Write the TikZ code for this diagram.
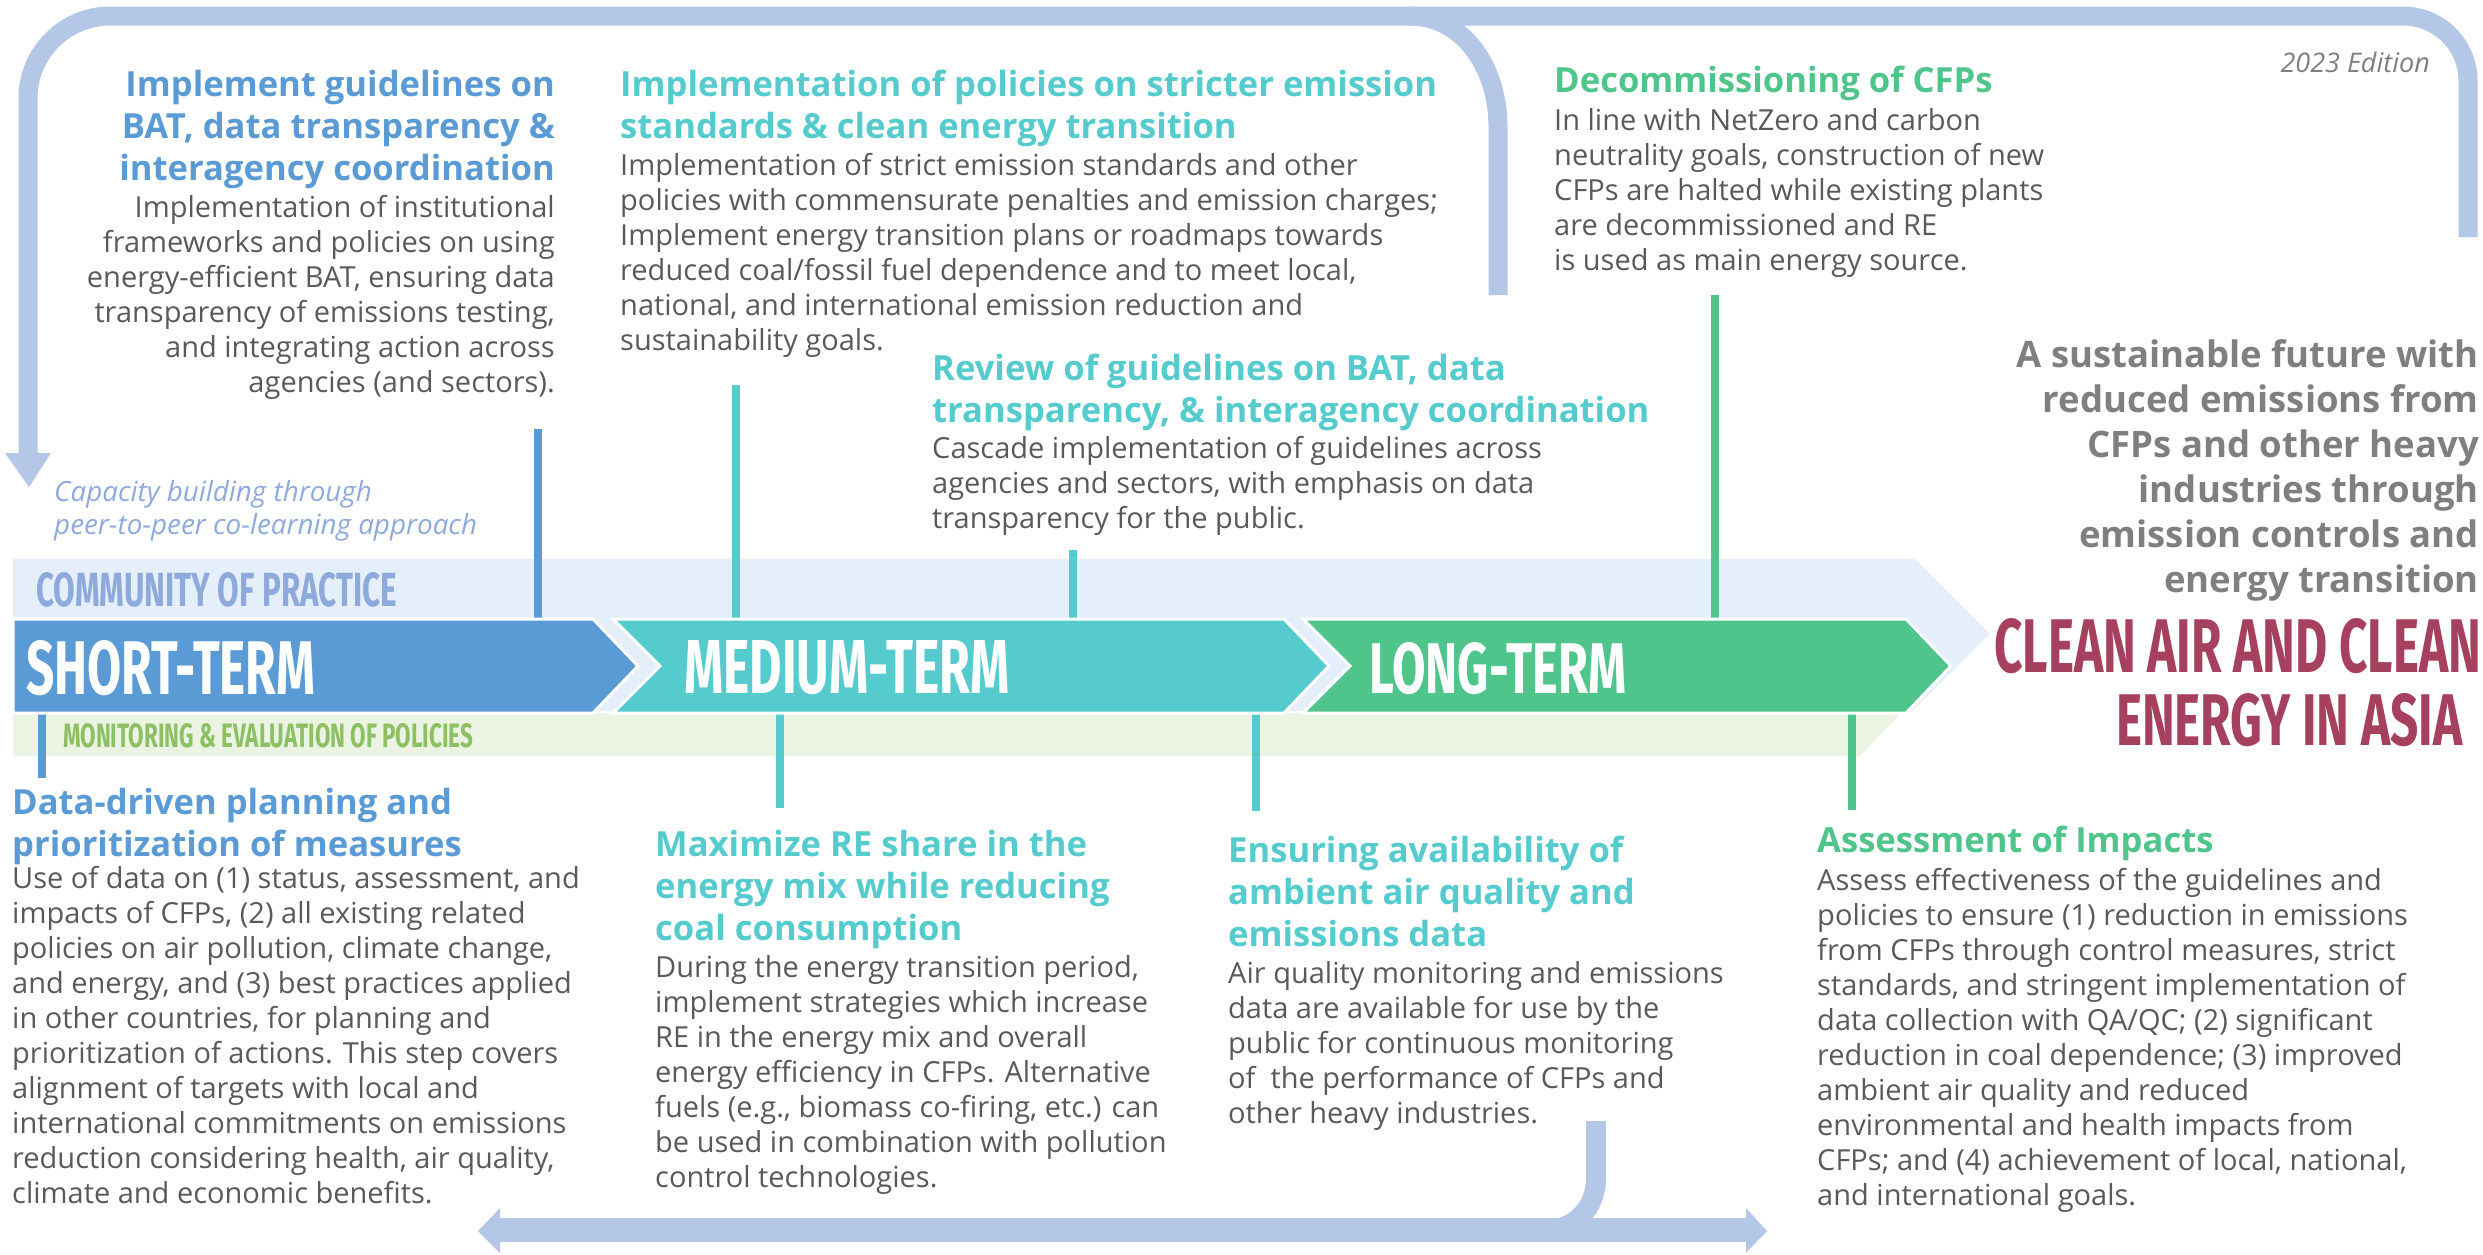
\documentclass[tikz,border=0pt]{standalone}
\usepackage{fontspec}
\usepackage{graphicx}
\setmainfont{Open Sans}
\newfontfamily\capsf{Fira Sans}
\definecolor{stblue}{HTML}{5B9BD5}
\definecolor{mdteal}{HTML}{55CBCD}
\definecolor{lggreen}{HTML}{4FC48B}
\definecolor{bodygray}{HTML}{595959}
\definecolor{headgray}{HTML}{7F7F7F}
\definecolor{cleanred}{HTML}{A6405F}
\definecolor{loopblue}{HTML}{B4C7E7}
\definecolor{bandblue}{HTML}{E5EEFB}
\definecolor{bandgreen}{HTML}{EBF3E3}
\definecolor{copblue}{HTML}{8EA9DB}
\definecolor{megreen}{HTML}{8CC063}
\tikzset{
  ttl/.style={inner sep=0pt, font=\bfseries\fontsize{34.6}{42}\selectfont},
  bdy/.style={inner sep=0pt, text=bodygray, font=\fontsize{29}{35}\selectfont},
  conn/.style={line width=7.5pt},
  loopband/.style={draw=loopblue, line width=#1},
  loopband/.default=19pt,
  chev/.style={draw=white, line width=3pt},
  capslab/.style={inner sep=0pt, anchor=base west},
}
\begin{document}
\begin{tikzpicture}[x=1pt,y=-1pt]
\useasboundingbox (0,0) rectangle (2483,1254);

% ---- top feedback loop ----
\draw[loopband] (2468,237) -- (2468,81) .. controls (2468,45) and (2439,16) .. (2403,16)
  -- (110,16) .. controls (65,16) and (28,53) .. (28,98) -- (28,455);
\draw[loopband] (1498,295) -- (1498,127) .. controls (1498,66) and (1462,16) .. (1410,16);
\fill[loopblue] (5,453) -- (51,453) -- (29,487) -- cycle;

% ---- bottom feedback loop ----
\draw[loopband=24pt] (496,1230) -- (1748,1230);
\draw[loopband=20pt] (1596,1121) -- (1596,1178) .. controls (1596,1208) and (1575,1230) .. (1545,1230);
\fill[loopblue] (500,1208) -- (478,1231) -- (500,1253) -- cycle;
\fill[loopblue] (1746,1208) -- (1767,1231) -- (1746,1253) -- cycle;

% ---- background bands ----
\fill[bandblue] (13,559) -- (1915,559) -- (1990,634) -- (1912,711) -- (13,711) -- cycle;
\fill[bandgreen] (13,713) -- (1901,713) -- (1860,756) -- (13,756) -- cycle;

% ---- connectors ----
\coordinate (c1a) at (538,429);  \coordinate (c1b) at (538,619);
\coordinate (c2a) at (736,385);  \coordinate (c2b) at (736,619);
\coordinate (c3a) at (1073,550); \coordinate (c3b) at (1073,619);
\coordinate (c4a) at (1715,295); \coordinate (c4b) at (1715,619);
\coordinate (d1a) at (42,713);   \coordinate (d1b) at (42,778);
\coordinate (d2a) at (780,713);  \coordinate (d2b) at (780,808);
\coordinate (d3a) at (1256,713); \coordinate (d3b) at (1256,811);
\coordinate (d4a) at (1852,713); \coordinate (d4b) at (1852,810);
\draw[conn, stblue] (c1a) -- (c1b);
\draw[conn, mdteal] (c2a) -- (c2b);
\draw[conn, mdteal] (c3a) -- (c3b);
\draw[conn, lggreen] (c4a) -- (c4b);
\draw[conn, stblue] (d1a) -- (d1b);
\draw[conn, mdteal] (d2a) -- (d2b);
\draw[conn, mdteal] (d3a) -- (d3b);
\draw[conn, lggreen] (d4a) -- (d4b);

% ---- chevrons ----
\filldraw[chev, fill=stblue] (13,619) -- (593,619) -- (638,666) -- (593,713) -- (13,713) -- cycle;
\filldraw[chev, fill=mdteal] (613,619) -- (1284,619) -- (1329,666) -- (1284,713) -- (613,713) -- (660,666) -- cycle;
\filldraw[chev, fill=lggreen] (1303,619) -- (1906,619) -- (1951,666) -- (1906,713) -- (1303,713) -- (1350,666) -- cycle;

% ---- caps labels ----
\node[capslab, text=white] (st) at (26,694) {\resizebox{289pt}{54pt}{\capsf\bfseries SHORT-TERM}};
\node[capslab, text=white] (mt) at (684,693) {\resizebox{325pt}{53pt}{\capsf\bfseries MEDIUM-TERM}};
\node[capslab, text=white] (lt) at (1369,693) {\resizebox{257pt}{51pt}{\capsf\bfseries LONG-TERM}};
\node[capslab, text=copblue] (cop) at (36,606) {\resizebox{361pt}{34pt}{\capsf\bfseries COMMUNITY OF PRACTICE}};
\node[capslab, text=megreen] (me) at (63,747) {\resizebox{410pt}{24pt}{\capsf\bfseries MONITORING \& EVALUATION OF POLICIES}};
\node[capslab, text=cleanred] (ca1) at (1994,672) {\resizebox{487pt}{54pt}{\capsf\bfseries CLEAN AIR AND CLEAN}};
\node[capslab, text=cleanred] (ca2) at (2116,745) {\resizebox{346pt}{52pt}{\capsf\bfseries ENERGY IN ASIA}};

% ---- top-left block ----
\node[ttl, text=stblue, anchor=north east, align=right] (tlT) at (555,70)
 {Implement guidelines on\\BAT, data transparency \&\\interagency coordination};
\node[bdy, anchor=north east, align=right] (tlB) at (555,195)
 {Implementation of institutional\\frameworks and policies on using\\energy-efficient BAT, ensuring data\\transparency of emissions testing,\\and integrating action across\\agencies (and sectors).};

% ---- medium top block ----
\node[ttl, text=mdteal, anchor=north west, align=left] (mtT) at (620,70)
 {Implementation of policies on stricter emission\\standards \& clean energy transition};
\node[bdy, anchor=north west, align=left] (mtB) at (620,153)
 {Implementation of strict emission standards and other\\policies with commensurate penalties and emission charges;\\Implement energy transition plans or roadmaps towards\\reduced coal/fossil fuel dependence and to meet local,\\national, and international emission reduction and\\sustainability goals.};

% ---- review block ----
\node[ttl, text=mdteal, anchor=north west, align=left] (rvT) at (932,354)
 {Review of guidelines on BAT, data\\transparency, \& interagency coordination};
\node[bdy, anchor=north west, align=left] (rvB) at (932,436)
 {Cascade implementation of guidelines across\\agencies and sectors, with emphasis on data\\transparency for the public.};

% ---- decommissioning block ----
\node[ttl, text=lggreen, anchor=north west, align=left] (dcT) at (1554,66)
 {Decommissioning of CFPs};
\node[bdy, anchor=north west, align=left] (dcB) at (1554,108)
 {In line with NetZero and carbon\\neutrality goals, construction of new\\CFPs are halted while existing plants\\are decommissioned and RE\\is used as main energy source.};

% ---- edition, capacity, goal ----
\node[inner sep=0pt, anchor=north east, text=headgray, font=\itshape\fontsize{27}{30}\selectfont] (ed) at (2430,52) {2023 Edition};
\node[inner sep=0pt, anchor=north west, align=left, text=copblue, font=\itshape\fontsize{27.8}{33}\selectfont] (cap) at (54,480)
 {Capacity building through\\peer-to-peer co-learning approach};
\node[inner sep=0pt, anchor=north east, align=right, text=headgray, font=\bfseries\fontsize{36.5}{45}\selectfont] (goal) at (2479,339)
 {A sustainable future with\\reduced emissions from\\CFPs and other heavy\\industries through\\emission controls and\\energy transition};

% ---- bottom blocks ----
\node[ttl, text=stblue, anchor=north west, align=left] (blT) at (12,788)
 {Data-driven planning and\\prioritization of measures};
\node[bdy, anchor=north west, align=left] (blB) at (12,866)
 {Use of data on (1) status, assessment, and\\impacts of CFPs, (2) all existing related\\policies on air pollution, climate change,\\and energy, and (3) best practices applied\\in other countries, for planning and\\prioritization of actions. This step covers\\alignment of targets with local and\\international commitments on emissions\\reduction considering health, air quality,\\climate and economic benefits.};

\node[ttl, text=mdteal, anchor=north west, align=left] (mxT) at (655,830)
 {Maximize RE share in the\\energy mix while reducing\\coal consumption};
\node[bdy, anchor=north west, align=left] (mxB) at (655,955)
 {During the energy transition period,\\implement strategies which increase\\RE in the energy mix and overall\\energy efficiency in CFPs. Alternative\\fuels (e.g., biomass co-firing, etc.) can\\be used in combination with pollution\\control technologies.};

\node[ttl, text=mdteal, anchor=north west, align=left] (enT) at (1228,836)
 {Ensuring availability of\\ambient air quality and\\emissions data};
\node[bdy, anchor=north west, align=left] (enB) at (1228,961)
 {Air quality monitoring and emissions\\data are available for use by the\\public for continuous monitoring\\of\ \ the performance of CFPs and\\other heavy industries.};

\node[ttl, text=lggreen, anchor=north west, align=left] (asT) at (1817,826)
 {Assessment of Impacts};
\node[bdy, anchor=north west, align=left] (asB) at (1817,868)
 {Assess effectiveness of the guidelines and\\policies to ensure (1) reduction in emissions\\from CFPs through control measures, strict\\standards, and stringent implementation of\\data collection with QA/QC; (2) significant\\reduction in coal dependence; (3) improved\\ambient air quality and reduced\\environmental and health impacts from\\CFPs; and (4) achievement of local, national,\\and international goals.};
\end{tikzpicture}
\end{document}
